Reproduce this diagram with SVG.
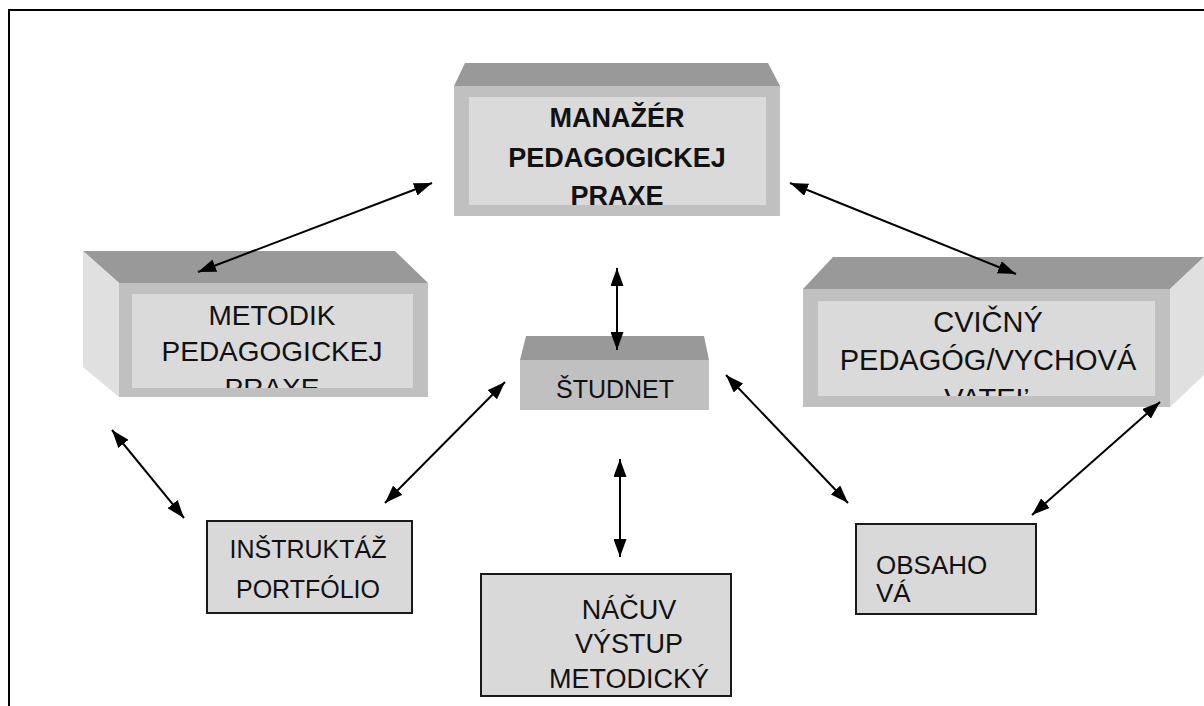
<svg xmlns="http://www.w3.org/2000/svg" width="1204" height="706" viewBox="0 0 1204 706">
<style>
.top{fill:#999999}
.side{fill:#e0e0e0}
.front{fill:#c0c0c0}
.inner{fill:#dadada}
.box{fill:#d9d9d9;stroke:#1a1a1a;stroke-width:2}
.t{font-family:"Liberation Sans",Arial,sans-serif;fill:#111;text-anchor:middle}
.b{font-weight:bold}
.conn line{stroke:#000;stroke-width:2;marker-start:url(#ah);marker-end:url(#ah)}
</style>
<defs>
<marker id="ah" viewBox="0 0 18 13" refX="18" refY="6.5" markerWidth="18" markerHeight="13" markerUnits="userSpaceOnUse" orient="auto-start-reverse">
<path d="M0,0 L18,6.5 L0,13 z" fill="#000"/>
</marker>
<clipPath id="cm"><rect x="469" y="97" width="297" height="108"/></clipPath>
<clipPath id="cmet"><rect x="132" y="294" width="281" height="94"/></clipPath>
<clipPath id="ccv"><rect x="818" y="301" width="337" height="95"/></clipPath>
</defs>
<rect width="1204" height="706" fill="#fff"/>
<path d="M9,706 V10 H1204" fill="none" stroke="#000" stroke-width="2"/>

<g id="manazer">
<polygon class="top" points="465,63 768,63 780,86 454,86"/>
<rect class="front" x="454" y="86" width="326" height="130"/>
<rect class="inner" x="469" y="97" width="297" height="108"/>
<g clip-path="url(#cm)">
<text class="t b" x="617" y="127" font-size="27">MANAŽÉR</text>
<text class="t b" x="617" y="167" font-size="27">PEDAGOGICKEJ</text>
<text class="t b" x="617" y="205" font-size="27">PRAXE</text>
</g>
</g>

<g id="metodik">
<polygon class="top" points="83,251 395,251 428,283 119,283"/>
<polygon class="side" points="83,251 119,283 119,397 83,367"/>
<rect class="front" x="119" y="283" width="309" height="114"/>
<rect class="inner" x="132" y="294" width="281" height="94"/>
<g clip-path="url(#cmet)">
<text class="t" x="272" y="325" font-size="28">METODIK</text>
<text class="t" x="272" y="361" font-size="28">PEDAGOGICKEJ</text>
<text class="t" x="272" y="398" font-size="28">PRAXE</text>
</g>
</g>

<g id="cvicny">
<polygon class="top" points="833,257 1204,257 1170,289 803,289"/>
<polygon class="side" points="1170,289 1204,257 1204,375 1170,407"/>
<rect class="front" x="803" y="289" width="367" height="118"/>
<rect class="inner" x="818" y="301" width="337" height="95"/>
<g clip-path="url(#ccv)">
<text class="t" x="988" y="332" font-size="29">CVIČNÝ</text>
<text class="t" x="988" y="370" font-size="29">PEDAGÓG/VYCHOVÁ</text>
<text class="t" x="988" y="409" font-size="29">VATEĽ</text>
</g>
</g>

<g id="studnet">
<polygon class="top" points="526,336 704,336 709,360 520,360"/>
<rect class="front" x="520" y="360" width="189" height="50"/>
<text class="t" x="615" y="398" font-size="25">ŠTUDNET</text>
</g>

<g id="instruktaz">
<rect class="box" x="207" y="521" width="205" height="92"/>
<text class="t" x="308" y="558" font-size="25">INŠTRUKTÁŽ</text>
<text class="t" x="308" y="598" font-size="25">PORTFÓLIO</text>
</g>

<g id="nacuv">
<rect class="box" x="481" y="574" width="250" height="122"/>
<text class="t" x="629" y="619" font-size="27">NÁČUV</text>
<text class="t" x="629" y="653" font-size="27">VÝSTUP</text>
<text class="t" x="629" y="688" font-size="27">METODICKÝ</text>
</g>

<g id="obsahova">
<rect class="box" x="856" y="524" width="180" height="90"/>
<text class="t" x="876" y="574" font-size="26" style="text-anchor:start">OBSAHO</text>
<text class="t" x="876" y="602" font-size="26" style="text-anchor:start">VÁ</text>
</g>

<g id="connectors" class="conn">
<line x1="432" y1="183" x2="198" y2="272"/>
<line x1="790" y1="183" x2="1016" y2="274"/>
<line x1="617" y1="268" x2="617" y2="350"/>
<line x1="112" y1="430" x2="184" y2="518"/>
<line x1="505" y1="382" x2="385" y2="503"/>
<line x1="620" y1="459" x2="620" y2="557"/>
<line x1="726" y1="375" x2="848" y2="503"/>
<line x1="1160" y1="402" x2="1032" y2="515"/>
</g>
</svg>
